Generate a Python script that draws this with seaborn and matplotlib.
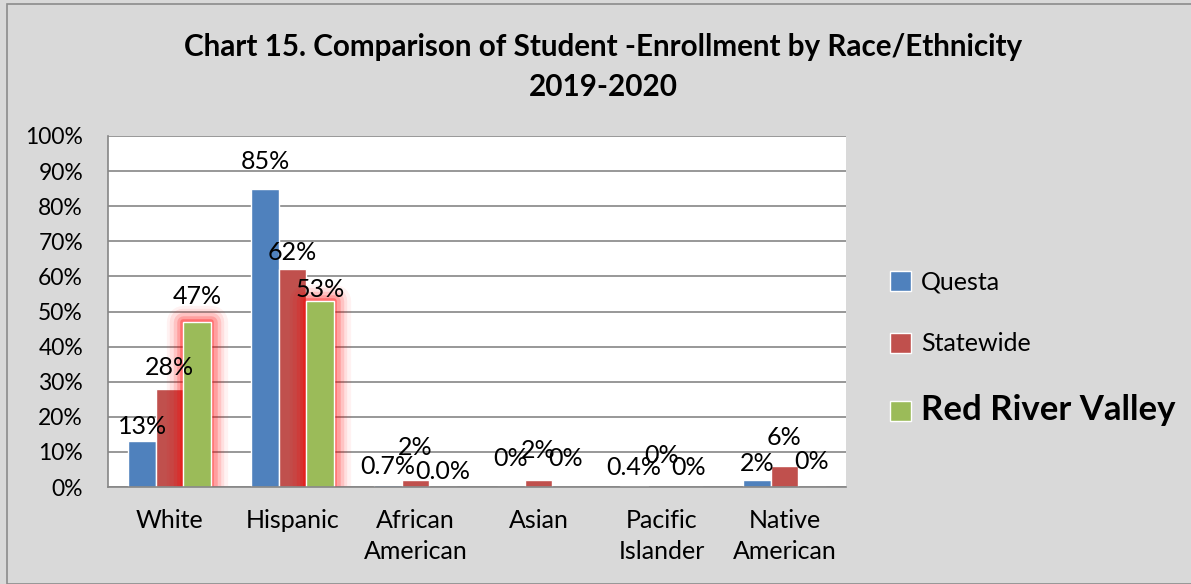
import numpy as np
import pandas as pd
import matplotlib.pyplot as plt
import matplotlib.patheffects as pe
from matplotlib.patches import Rectangle, Patch
import seaborn as sns

races = ['White', 'Hispanic', 'African\nAmerican', 'Asian', 'Pacific\nIslander', 'Native\nAmerican']
areas = ['Questa', 'Statewide', 'Red River Valley']
questa = [13, 85, 0.7, 0, 0.4, 2]
statewide = [28, 62, 2, 2, 0, 6]
rrv = [47, 53, 0.0, 0, 0, 0]
questa_lbl = ['13%', '85%', '0.7%', '0%', '0.4%', '2%']
statewide_lbl = ['28%', '62%', '2%', '2%', '0%', '6%']
rrv_lbl = ['47%', '53%', '0.0%', '0%', '0%', '0%']
colors = ['#4f81bd', '#c0504d', '#9bbb59']

# label gap above each bar (pixels), as Excel placed them
pads = [[3, 16, 7, 17, 7, 5],
        [10, 5, 21, 18, 20, 17],
        [14, 0, 4, 17, 8, 14]]

_df = pd.DataFrame({
    'Race': races * 3,
    'Area': [a for a in areas for _ in races],
    'Pct': questa + statewide + rrv,
})

sns.set_style('white')
plt.rcParams['font.family'] = ['Lato', 'DejaVu Sans']
plt.rcParams['text.color'] = 'black'

fig = plt.figure(figsize=(11.91, 5.84), dpi=100, facecolor='#d9d9d9')
fig.patches.append(Rectangle((7 / 1191, 0), 1.2, (584 - 4) / 584, transform=fig.transFigure,
                             facecolor='none', edgecolor='#8c8c8c', lw=1.2))
ax = fig.add_axes([108 / 1191, 97 / 584, 738 / 1191, 351 / 584])

sns.barplot(data=_df, x='Race', y='Pct', hue='Area', palette=colors, width=0.67,
            saturation=1, ax=ax, legend=False)

# red glow round the two green bars
glow = [pe.Stroke(linewidth=w, foreground='red', alpha=a, joinstyle='round')
        for w, a in [(24, 0.05), (19, 0.08), (14, 0.12), (9, 0.18), (4, 0.3)]] + [pe.Normal()]
for i in [0, 1]:
    ax.containers[2][i].set_path_effects(glow)

for cont, lbls, pp in zip(ax.containers, [questa_lbl, statewide_lbl, rrv_lbl], pads):
    for bar, lbl, p in zip(cont, lbls, pp):
        ax.annotate(lbl, (bar.get_x() + bar.get_width() / 2, bar.get_height()),
                    xytext=(0, p * 0.72), textcoords='offset points',
                    ha='center', va='bottom', fontsize=18, color='black')

ax.set_ylim(0, 100)
ax.set_xlim(-0.5, 5.5)
ax.set_yticks(np.arange(0, 101, 10))
ax.set_yticklabels([f'{v}%' for v in range(0, 101, 10)], fontsize=16.5, color='black')
ax.set_xticks(range(6))
ax.set_xticklabels(races, fontsize=18, linespacing=1.4, color='black')
ax.set_xticks(np.arange(-0.5, 6, 1), minor=True)
ax.tick_params(axis='x', which='major', length=0, pad=16)
ax.tick_params(axis='x', which='minor', length=8, color='#868686', width=1.2, direction='out')
ax.tick_params(axis='y', length=8, color='#868686', width=1.2, direction='out', pad=10)
ax.grid(axis='y', color='#868686', lw=1.2)
ax.set_axisbelow(True)
ax.set_xlabel('')
ax.set_ylabel('')
for s in ['top', 'right']:
    ax.spines[s].set_visible(False)
for s in ['left', 'bottom']:
    ax.spines[s].set_color('#868686')
    ax.spines[s].set_linewidth(1.2)

fig.text(603 / 1191, 1 - 47 / 584, 'Chart 15. Comparison of Student -Enrollment by Race/Ethnicity',
         ha='center', va='center', fontsize=21.3, fontweight='bold', color='black')
fig.text(603 / 1191, 1 - 87 / 584, '2019-2020', ha='center', va='center',
         fontsize=21.3, fontweight='bold', color='black')

handles = [Patch(facecolor=c) for c in colors]
leg = fig.legend(handles, areas, loc='upper left', bbox_to_anchor=(867 / 1191, 1 - 248 / 584),
                 frameon=False, fontsize=18, handlelength=0.85, handleheight=0.85,
                 handletextpad=0.4, labelspacing=1.55)
leg.get_texts()[2].set_fontsize(25)
leg.get_texts()[2].set_fontweight('bold')

fig.savefig('out.png', dpi=100, facecolor=fig.get_facecolor())
